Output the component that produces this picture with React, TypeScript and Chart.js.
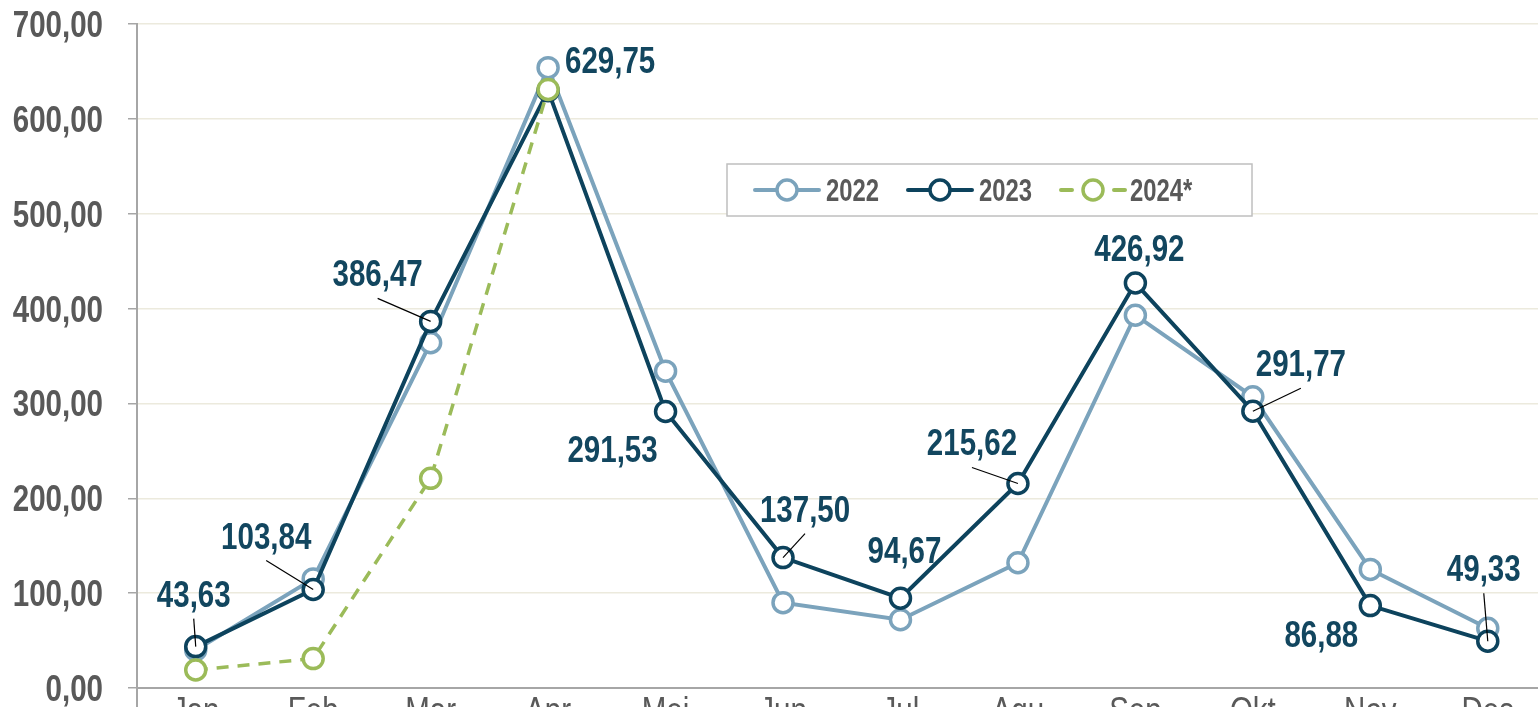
import React, { useEffect, useRef } from "react";
import { Chart, registerables } from "chart.js";

Chart.register(...registerables);

const months = ["Jan", "Feb", "Mar", "Apr", "Mei", "Jun", "Jul", "Agu", "Sep", "Okt", "Nov", "Des"];
const values2022 = [40, 115, 364, 654, 334, 90, 72, 132, 393, 307, 125, 63];
const values2023 = [43.63, 103.84, 386.47, 629.75, 291.53, 137.5, 94.67, 215.62, 426.92, 291.77, 86.88, 49.33];
const values2024 = [19, 31, 221, 631];
const seriesNames = ["2022", "2023", "2024*"];

// label placement (style only): offset from the point in px, and whether a leader line is drawn
const labelDx = [-2, -47, -53, 62, -53, 22, 4, -46, 4, 48, -49, -4];
const labelDy = [-53, -54, -48, -31, 38, -49, -48, -41, -35, -48, 28, -73];
const labelLeader = [true, true, true, false, false, true, false, true, false, true, false, true];

const C2022 = "#7BA3BC";
const C2023 = "#0D435D";
const C2024 = "#9BBB59";
const LABEL = "#12465F";
const GRAY = "#595959";
const AXIS = "#A6A6A6";
const FONT = "'Liberation Sans', Arial, sans-serif";
const NARROW = 0.82;

const fmt = (v: number) => v.toFixed(2).replace(".", ",");

function narrowText(ctx: any, text: string, x: number, y: number, align: string, font: string, color: string, sx = NARROW) {
  ctx.save();
  ctx.translate(x, y);
  ctx.scale(sx, 1);
  ctx.font = font;
  ctx.fillStyle = color;
  ctx.textAlign = align;
  ctx.textBaseline = "alphabetic";
  ctx.fillText(text, 0, 0);
  ctx.restore();
}

const axisTextPlugin = {
  id: "axisText",
  afterDraw(chart: any) {
    const ctx = chart.ctx;
    const y = chart.scales.y;
    const x = chart.scales.x;
    const area = chart.chartArea;
    // y tick labels
    y.ticks.forEach((t: any) => {
      const py = y.getPixelForValue(t.value);
      narrowText(ctx, fmt(t.value), area.left - 34, py + 13, "right", `bold 36px ${FONT}`, GRAY);
    });
    // x tick labels
    months.forEach((m, i) => {
      const px = x.getPixelForValue(i);
      narrowText(ctx, m, px, area.bottom + 35, "center", `36px ${FONT}`, GRAY);
    });
    // vertical axis line continuing below the horizontal axis
    ctx.save();
    ctx.strokeStyle = AXIS;
    ctx.lineWidth = 2;
    ctx.beginPath();
    ctx.moveTo(area.left, area.bottom);
    ctx.lineTo(area.left, chart.height);
    ctx.stroke();
    ctx.restore();
  },
};

const labelPlugin = {
  id: "labels2023",
  afterDatasetsDraw(chart: any) {
    const ctx = chart.ctx;
    const meta = chart.getDatasetMeta(1);
    meta.data.forEach((pt: any, i: number) => {
      const x = pt.x + labelDx[i];
      const y = pt.y + labelDy[i];
      if (labelLeader[i]) {
        ctx.save();
        ctx.beginPath();
        ctx.strokeStyle = "#000";
        ctx.lineWidth = 1.2;
        ctx.moveTo(x, y + 25);
        ctx.lineTo(pt.x, pt.y);
        ctx.stroke();
        ctx.restore();
      }
      narrowText(ctx, fmt(values2023[i]), x, y + 13, "center", `bold 36px ${FONT}`, LABEL);
    });
  },
};

const legendPlugin = {
  id: "boxLegend",
  afterDraw(chart: any) {
    const ctx = chart.ctx;
    ctx.save();
    ctx.strokeStyle = "#BFBFBF";
    ctx.lineWidth = 1.5;
    ctx.fillStyle = "#fff";
    ctx.fillRect(727, 164, 525, 52);
    ctx.strokeRect(727, 164, 525, 52);
    const cy = 190;
    const items = [
      { x: 755, color: C2022, dash: false, tx: 826 },
      { x: 908, color: C2023, dash: false, tx: 979 },
      { x: 1061, color: C2024, dash: true, tx: 1130 },
    ];
    items.forEach((it, i) => {
      ctx.strokeStyle = it.color;
      ctx.lineWidth = 4;
      ctx.lineCap = "round";
      ctx.beginPath();
      if (it.dash) {
        ctx.moveTo(it.x, cy);
        ctx.lineTo(it.x + 11, cy);
        ctx.moveTo(it.x + 53, cy);
        ctx.lineTo(it.x + 64, cy);
      } else {
        ctx.moveTo(it.x, cy);
        ctx.lineTo(it.x + 64, cy);
      }
      ctx.stroke();
      ctx.beginPath();
      ctx.lineWidth = 3.5;
      ctx.fillStyle = "#fff";
      ctx.arc(it.x + 32, cy, 10, 0, Math.PI * 2);
      ctx.fill();
      ctx.stroke();
      narrowText(ctx, seriesNames[i], it.tx, cy + 11, "left", `bold 31px ${FONT}`, GRAY, 0.77);
    });
    ctx.restore();
  },
};

export default function App() {
  const ref = useRef<HTMLCanvasElement | null>(null);
  useEffect(() => {
    if (!ref.current) return;
    const point = (color: string) => ({
      borderColor: color,
      pointBorderColor: color,
      pointBackgroundColor: "#fff",
      pointRadius: 10,
      pointBorderWidth: 3.5,
      pointStyle: "circle",
      tension: 0,
      fill: false,
    });
    const chart = new Chart(ref.current, {
      type: "line",
      data: {
        labels: months,
        datasets: [
          { label: seriesNames[0], data: values2022, ...point(C2022), borderWidth: 4, order: 3 },
          { label: seriesNames[1], data: values2023, ...point(C2023), borderWidth: 4, order: 2 },
          { label: seriesNames[2], data: values2024, ...point(C2024), borderWidth: 3.5, borderDash: [12, 9], order: 1 },
        ],
      } as any,
      options: {
        responsive: false,
        animation: false,
        layout: { padding: { left: 0, top: 24, right: 13, bottom: 0 } },
        plugins: { legend: { display: false }, tooltip: { enabled: false } },
        scales: {
          x: {
            offset: true,
            grid: { display: false },
            border: { color: AXIS, width: 2 },
            ticks: { display: false, autoSkip: false },
            afterFit: (s: any) => { s.height = 62; },
          },
          y: {
            min: 0,
            max: 700,
            grid: { color: "#ECEADD", lineWidth: 1.5, tickLength: 9, tickColor: AXIS, drawTicks: true },
            border: { color: AXIS, width: 2 },
            ticks: { stepSize: 100, display: false },
            afterFit: (s: any) => { s.width = 137; },
          },
        },
      } as any,
      plugins: [labelPlugin, legendPlugin, axisTextPlugin],
    });
    return () => chart.destroy();
  }, []);
  return (
    <div style={{ position: "fixed", left: 0, top: 0, width: "100vw", height: "100vh", overflow: "hidden", background: "#fff" }}>
      <canvas ref={ref} width={1560} height={750} style={{ position: "absolute", left: 0, top: 0, width: 1560, height: 750 }} />
    </div>
  );
}
